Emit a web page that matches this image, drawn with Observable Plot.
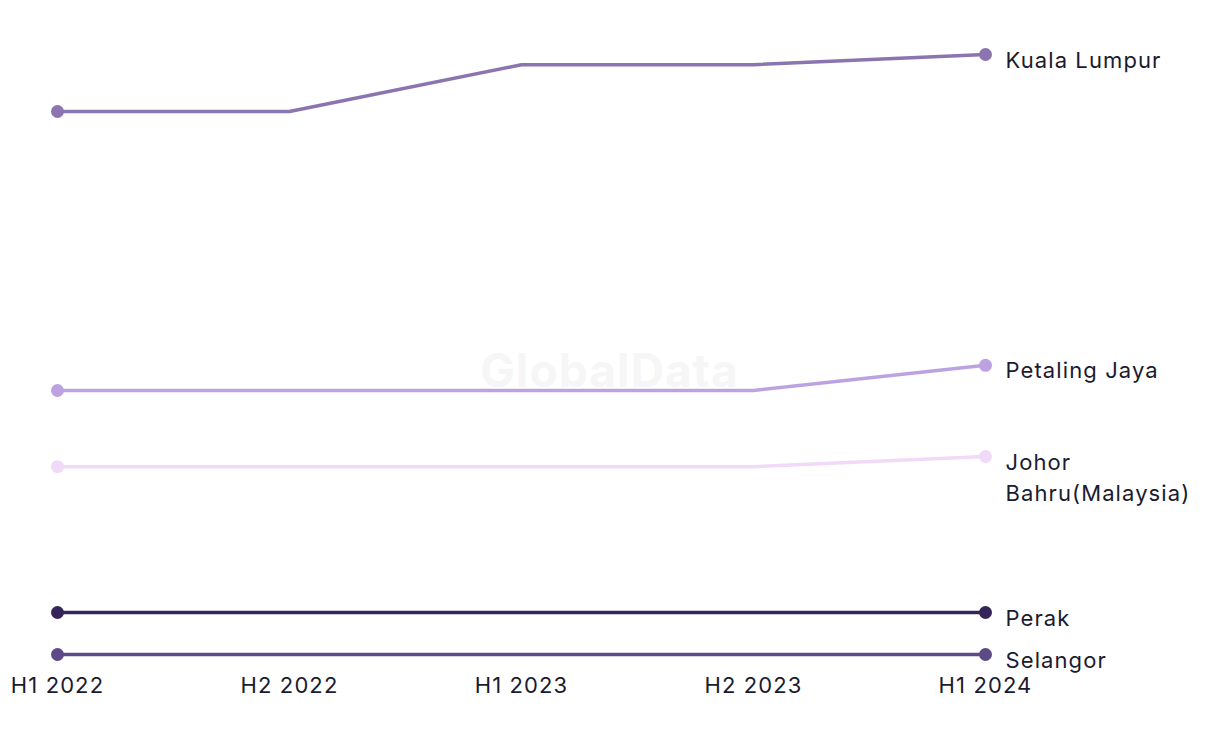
<!DOCTYPE html>
<html>
<head>
<meta charset="utf-8">
<script src="https://cdn.jsdelivr.net/npm/d3@7"></script>
<script src="https://cdn.jsdelivr.net/npm/@observablehq/plot@0.6"></script>
<style>
  html, body { margin: 0; padding: 0; background: #fff; }
  #chart { width: 1220px; height: 744px; }
</style>
</head>
<body>
<div id="chart"></div>
<script>
const periods = ["H1 2022", "H2 2022", "H1 2023", "H2 2023", "H1 2024"];
const seriesNames = ["Kuala Lumpur", "Petaling Jaya", "Johor\nBahru(Malaysia)", "Perak", "Selangor"];
const seriesColors = ["#8b74b0", "#bda2e2", "#f0daf8", "#35245a", "#5d4a86"];
const kualaLumpur = [90.5, 90.5, 98.3, 98.3, 100];
const petalingJaya = [44, 44, 44, 44, 48.2];
const johorBahru = [31.3, 31.3, 31.3, 31.3, 33];
const perak = [7, 7, 7, 7, 7];
const selangor = [0, 0, 0, 0, 0];
const seriesValues = [kualaLumpur, petalingJaya, johorBahru, perak, selangor];

const data = [];
seriesNames.forEach((name, i) => {
  periods.forEach((p, j) => data.push({series: name, period: p, value: seriesValues[i][j]}));
});
const last = data.filter(d => d.period === periods[periods.length - 1]);

const font = "Inter, 'Noto Sans', sans-serif";
const chart = Plot.plot({
  width: 1220,
  height: 744,
  marginLeft: 57,
  marginRight: 235,
  marginTop: 54,
  marginBottom: 90,
  style: {fontFamily: font, fontSize: "22px", color: "#1b1b2e", background: "#fff", letterSpacing: "1.1px"},
  x: {type: "point", domain: periods, padding: 0, label: null},
  y: {domain: [0, 100], axis: null},
  color: {domain: seriesNames, range: seriesColors},
  marks: [
    Plot.text(["GlobalData"], {frameAnchor: "middle", dx: 88, dy: 18, fontSize: 46, fontWeight: "bold", fill: "#f6f6f6"}),
    Plot.axisX({tickSize: 0, tickPadding: 23, fontSize: 22, fill: "#1b1b2e"}),
    Plot.line(data, {x: "period", y: "value", z: "series", stroke: "series", strokeWidth: 3.5}),
    Plot.dot(data.filter(d => d.period === periods[0] || d.period === periods[periods.length - 1]), {x: "period", y: "value", fill: "series", r: 6.5}),
    Plot.text(last, {x: "period", y: "value", text: "series", textAnchor: "start", lineAnchor: "top", dx: 20, dy: -9, lineHeight: 1.42, fill: "#1b1b2e", fontSize: 22})
  ]
});
document.getElementById("chart").append(chart);
</script>
</body>
</html>
